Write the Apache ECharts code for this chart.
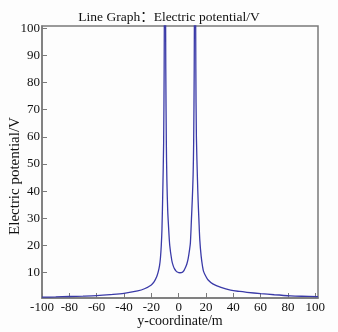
<!DOCTYPE html>
<html>
<head>
<meta charset="utf-8">
<script src="https://cdn.jsdelivr.net/npm/echarts@6/dist/echarts.min.js"></script>
<style>
  html, body { margin: 0; padding: 0; background: #fdfdfd; }
  #chart { width: 338px; height: 332px; }
</style>
</head>
<body>
<div id="chart"></div>
<script>
/* ── Data ── */
const Y_COORD = [
  -100, -90, -80, -70, -60, -50, -40, -30, -25, -20, -18, -16, -15, -14, -13.3, -12.7, -12.2, -11.6, -11, -10.6, -10.3,
  -10, -9.7, -9.4, -9, -8.6, -8, -7.5, -6.5, -5, -4, -3, -2, -1, 0, 1, 2, 3, 4, 5, 6, 7, 8, 8.6, 9.4, 10, 10.6, 11, 11.4, 11.7,
  12, 12.3, 12.6, 13, 13.8, 14.3, 14.8, 15.5, 16.5, 17.5, 18.3, 20, 21.6, 25, 31, 38, 44.7, 50, 60, 70, 82, 90, 102
];
const POTENTIAL = [
  1.0, 1.1, 1.25, 1.4, 1.6, 1.95, 2.4, 3.3, 4.1, 5.5, 6.6, 8.6, 10.2, 12.5, 15.5, 20, 26, 40, 57, 85, 130,
  200, 130, 85, 58, 44, 33, 28, 20, 14.5, 12.6, 11.4, 10.7, 10.25, 10.05, 10.0, 10.05, 10.3, 10.9, 11.9, 13.2, 15.3, 18.5, 21, 30, 37, 46, 58, 85, 130,
  200, 130, 85, 60, 44, 36, 30, 22, 16, 12.3, 10.4, 8.6, 7.3, 5.9, 4.6, 3.6, 3.1, 2.8, 2.3, 1.9, 1.5, 1.35, 1.2
];
const X_TICKS = [-100, -80, -60, -40, -20, 0, 20, 40, 60, 80, 100];
const Y_TICKS = [10, 20, 30, 40, 50, 60, 70, 80, 90, 100];

const FONT = '"Liberation Serif", "Noto Sans CJK SC", serif';
const FRAME = '#7a7a7a';

const chart = echarts.init(document.getElementById('chart'), null, { renderer: 'canvas' });

chart.setOption({
  animation: false,
  backgroundColor: '#fdfdfd',
  title: {
    text: 'Line Graph：Electric potential/V',
    left: 'center',
    top: 6,
    textStyle: { fontFamily: FONT, fontSize: 13.5, fontWeight: 'normal', color: '#111' },
  },
  // y-axis title, placed a little below the plot's middle like the original
  graphic: [
    {
      type: 'text',
      x: 15,
      y: 176,
      rotation: Math.PI / 2,
      style: {
        text: 'Electric potential/V',
        font: '15px ' + FONT,
        fill: '#111',
        align: 'center',
        verticalAlign: 'middle',
      },
    },
  ],
  grid: {
    left: 42, right: 20, top: 26, bottom: 34,
    outerBoundsMode: 'none',
    containLabel: false,
    show: true, borderColor: FRAME, borderWidth: 1.5, backgroundColor: 'transparent',
  },
  xAxis: {
    type: 'value',
    min: -100,
    max: 102,
    name: 'y-coordinate/m',
    nameLocation: 'middle',
    nameGap: 16,
    nameMoveOverlap: false,
    nameTextStyle: { fontFamily: FONT, fontSize: 14, color: '#111' },
    axisLine: { show: true, onZero: false, lineStyle: { color: FRAME, width: 1.5 } },
    axisTick: { show: true, inside: true, length: 5, customValues: X_TICKS, lineStyle: { color: FRAME } },
    axisLabel: { customValues: X_TICKS, margin: 3, fontFamily: FONT, fontSize: 13, color: '#111' },
    splitLine: { show: false },
  },
  yAxis: {
    type: 'value',
    min: 0.7,
    max: 100.8,
    axisLine: { show: true, onZero: false, lineStyle: { color: FRAME, width: 1.5 } },
    axisTick: { show: true, inside: true, length: 5, customValues: Y_TICKS, lineStyle: { color: FRAME } },
    axisLabel: { customValues: Y_TICKS, margin: 2, fontFamily: FONT, fontSize: 13, color: '#111' },
    splitLine: { show: false },
  },
  series: [
    {
      type: 'line',
      data: Y_COORD.map((y, i) => [y, POTENTIAL[i]]),
      showSymbol: false,
      smooth: 0.3,
      clip: true,
      lineStyle: { color: '#3a3aa8', width: 1.3 },
    },
  ],
});
</script>
</body>
</html>
